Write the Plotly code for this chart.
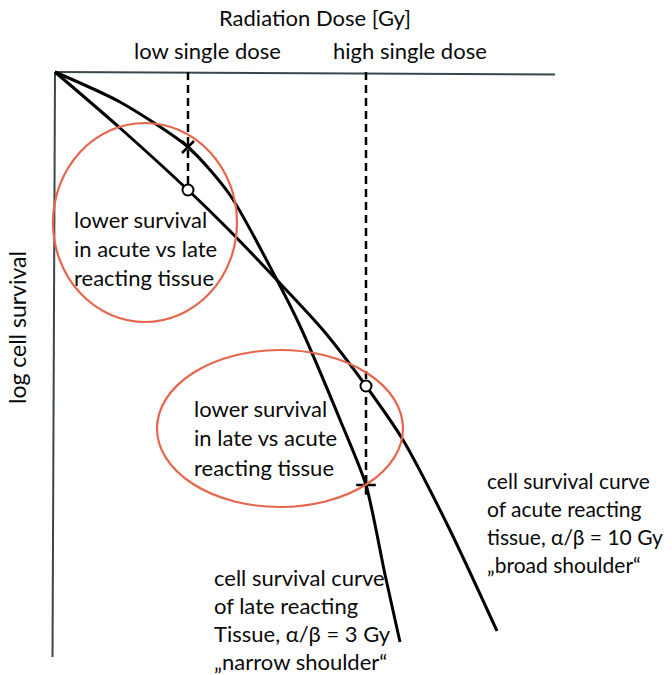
import plotly.graph_objects as go

# ---- data (dose in arbitrary Gy units, log cell survival in arbitrary log units) ----
late_dose = [0.0, 1.3, 2.66, 3.5, 4.44, 4.9, 5.74, 6.22, 6.6, 6.9]
late_logS = [0.0, -0.6, -1.5, -2.46, -4.16, -5.08, -7.05, -8.26, -10.05, -11.4]

acute_dose = [0.0, 1.3, 2.66, 3.44, 4.4, 5.36, 6.22, 6.96, 7.84, 8.84]
acute_logS = [0.0, -1.12, -2.36, -3.12, -4.12, -5.16, -6.28, -7.36, -9.04, -11.18]

low_dose = 2.66
high_dose = 6.22
late_at_low = -1.5
acute_at_low = -2.36
acute_at_high = -6.28
late_at_high = -8.26

axis_dose_max = 10.0
axis_logS_min = -11.7

W, H = 672, 675
FONT = "Lato"
SCALE = 50.0  # pixels per unit
X0, Y0 = 55, 72  # origin position in figure pixels


def px(x):
    return x / W


def py(y):
    return 1 - y / H


fig = go.Figure()

# axes drawn as lines
fig.add_trace(go.Scatter(x=[0, axis_dose_max], y=[0, -0.05], mode="lines",
                         line=dict(color="#3a464e", width=2), hoverinfo="skip"))
fig.add_trace(go.Scatter(x=[0, -0.05], y=[0, axis_logS_min], mode="lines",
                         line=dict(color="#3a464e", width=2), hoverinfo="skip"))

# dashed dose lines
fig.add_trace(go.Scatter(x=[low_dose, low_dose], y=[0, acute_at_low], mode="lines",
                         line=dict(color="black", width=2.5, dash="8px,5px"), hoverinfo="skip"))
fig.add_trace(go.Scatter(x=[high_dose, high_dose], y=[0, late_at_high], mode="lines",
                         line=dict(color="black", width=2.5, dash="8px,5px"), hoverinfo="skip"))

# survival curves
fig.add_trace(go.Scatter(x=late_dose, y=late_logS, mode="lines",
                         line=dict(color="black", width=3, shape="spline", smoothing=0.7),
                         name="late"))
fig.add_trace(go.Scatter(x=acute_dose, y=acute_logS, mode="lines",
                         line=dict(color="black", width=3, shape="spline", smoothing=0.8),
                         name="acute"))

# markers
fig.add_trace(go.Scatter(x=[low_dose], y=[late_at_low], mode="markers",
                         marker=dict(symbol="x-thin", size=12, line=dict(color="black", width=2.5))))
fig.add_trace(go.Scatter(x=[high_dose], y=[late_at_high], mode="markers",
                         marker=dict(symbol="cross-thin", size=14, line=dict(color="black", width=2.5))))
fig.add_trace(go.Scatter(x=[low_dose, high_dose], y=[acute_at_low, acute_at_high], mode="markers",
                         marker=dict(symbol="circle", size=11, color="white",
                                     line=dict(color="black", width=2))))

# ellipses
ell_color = "#e5664c"
shapes = [
    dict(type="circle", xref="paper", yref="paper",
         x0=px(53), x1=px(237), y0=py(123), y1=py(322),
         line=dict(color=ell_color, width=2.2)),
    dict(type="circle", xref="paper", yref="paper",
         x0=px(157), x1=px(403), y0=py(350), y1=py(507),
         line=dict(color=ell_color, width=2.2)),
]

annotations = []


def txt(t, x, y, size=22, xanchor="left", angle=0):
    annotations.append(dict(text=t, x=px(x), y=py(y), xref="paper", yref="paper",
                            xanchor=xanchor, yanchor="middle", showarrow=False,
                            textangle=angle,
                            font=dict(family=FONT, size=size, color="#0a0a0a")))


txt("Radiation Dose [Gy]", 315, 18, xanchor="center")
txt("low single dose", 207, 50, xanchor="center")
txt("high single dose", 410, 50, xanchor="center")
txt("log cell survival", 17, 328, size=23, xanchor="center", angle=-90)

for i, line in enumerate(["lower survival", "in acute vs late", "reacting tissue"]):
    txt(line, 72, 219 + 29 * i)
for i, line in enumerate(["lower survival", "in late vs acute", "reacting tissue"]):
    txt(line, 192, 408 + 29.5 * i)
for i, line in enumerate(["cell survival curve", "of late reacting",
                          "Tissue, α/β = 3 Gy", "„narrow shoulder“"]):
    txt(line, 212, 577 + 28.3 * i)
for i, line in enumerate(["cell survival curve", "of acute reacting",
                          "tissue, α/β = 10 Gy", "„broad shoulder“"]):
    txt(line, 485, 480 + 28.3 * i, size=21)

fig.update_layout(
    width=W, height=H,
    margin=dict(l=0, r=0, t=0, b=0),
    paper_bgcolor="white", plot_bgcolor="white",
    showlegend=False,
    shapes=shapes, annotations=annotations,
    xaxis=dict(range=[-X0 / SCALE, (W - X0) / SCALE], visible=False, fixedrange=True),
    yaxis=dict(range=[-(H - Y0) / SCALE, Y0 / SCALE], visible=False, fixedrange=True),
)

# remove the default 8px page margin so the 672x675 figure fills the window
fig.write_html("out.html",
               config={"displayModeBar": False},
               post_script="document.body.style.margin='0';document.body.style.overflow='hidden';")
